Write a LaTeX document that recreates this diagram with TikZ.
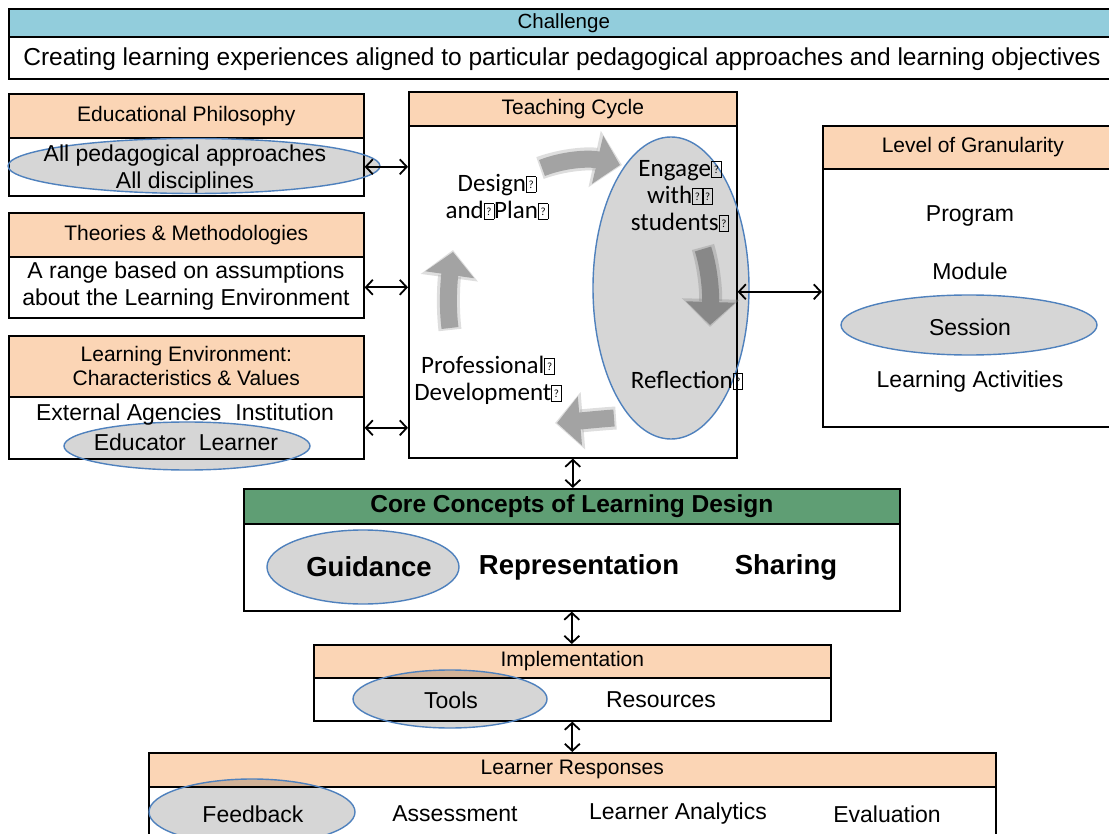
\documentclass[tikz,border=0pt]{standalone}
\usepackage{fontspec}
\setmainfont{Liberation Sans}
\newfontfamily\calfont{Carlito}
\usetikzlibrary{arrows.meta,shapes.geometric}
\definecolor{peach}{HTML}{FBD5B5}
\definecolor{chblue}{HTML}{92CDDC}
\definecolor{coregreen}{HTML}{5F9E74}
\definecolor{elblue}{HTML}{4F81BD}
\definecolor{cyclegray}{HTML}{A3A3A3}
\newcommand{\qb}{{\setlength{\fboxsep}{0.5pt}\setlength{\fboxrule}{0.7pt}\fbox{\rule{0pt}{14pt}\makebox[8pt]{\raisebox{2.5pt}{\fontsize{11}{11}\selectfont ?}}}}}
\tikzset{
  x=1pt, y=-1pt,
  boxnode/.style={draw, line width=1.6pt, inner sep=0pt, anchor=north west, fill=white},
  hdr/.style={boxnode, fill=peach, font=\fontsize{21}{24}\selectfont, align=center},
  txt/.style={inner sep=0pt, align=center, font=\fontsize{23}{27}\selectfont},
  cyc/.style={inner sep=0pt, align=center, font=\calfont\fontsize{25}{27}\selectfont},
  bold/.style={inner sep=0pt, font=\bfseries\fontsize{27.5}{30}\selectfont},
  hl/.style={ellipse, draw=elblue, line width=1.4pt, fill=black, fill opacity=0.16, inner sep=0pt},
  garrow/.style={draw=cyclegray, line width=17pt, -{Triangle[width=48pt,length=23pt]}},
  garrowsoft/.style={draw=cyclegray, draw opacity=0.35, fill opacity=0.35, line width=23pt, -{Triangle[width=56pt,length=28pt]}},
  dbl/.style={draw, line width=1.8pt, {Straight Barb[length=7pt,width=15pt,line width=1.8pt]}-{Straight Barb[length=7pt,width=15pt,line width=1.8pt]}}
}
\begin{document}
\begin{tikzpicture}
\useasboundingbox (0,0) rectangle (1109,834);
\clip (0,0) rectangle (1109,834);
% Challenge
\node[boxnode, fill=chblue, minimum width=1110, minimum height=28, font=\fontsize{20.5}{24}\selectfont] (chH) at (8,8) {Challenge};
\node[boxnode, minimum width=1110, minimum height=42] (chB) at (8,36) {};
% Educational philosophy
\node[hdr, minimum width=355, minimum height=44] (epH) at (8,93) {Educational Philosophy};
\node[boxnode, minimum width=355, minimum height=58] (epB) at (8,137) {};
% Theories
\node[hdr, minimum width=355, minimum height=44] (thH) at (8,212) {Theories \& Methodologies};
\node[boxnode, minimum width=355, minimum height=61] (thB) at (8,256) {};
% Learning environment
\node[hdr, minimum width=355, minimum height=61] (leH) at (8,335) {Learning Environment:\\Characteristics \& Values};
\node[boxnode, minimum width=355, minimum height=62] (leB) at (8,396) {};
% Teaching cycle
\node[hdr, minimum width=328, minimum height=34] (tcH) at (408,91) {Teaching Cycle};
\node[boxnode, minimum width=328, minimum height=332] (tcB) at (408,125) {};
% Granularity
\node[hdr, minimum width=300, minimum height=43] (grH) at (822,125) {Level of Granularity};
\node[boxnode, minimum width=300, minimum height=258] (grB) at (822,168) {};
% Core concepts
\node[boxnode, fill=coregreen, minimum width=656, minimum height=35, font=\bfseries\fontsize{24.5}{28}\selectfont] (coH) at (243,488) {Core Concepts of Learning Design};
\node[boxnode, minimum width=656, minimum height=87] (coB) at (243,523) {};
% Implementation
\node[hdr, minimum width=517, minimum height=33] (imH) at (313,644) {Implementation};
\node[boxnode, minimum width=517, minimum height=43] (imB) at (313,677) {};
% Learner responses
\node[hdr, minimum width=847, minimum height=34] (lrH) at (148,752) {Learner Responses};
\node[boxnode, minimum width=847, minimum height=70] (lrB) at (148,786) {};

% cycle arrows (soft halo, then body)
\draw[garrowsoft] (540,168) .. controls (565,159) and (590,158) .. (622,165);
\draw[garrowsoft] (703,247) .. controls (709,268) and (711,290) .. (710,327);
\draw[garrowsoft] (616,418) .. controls (600,419) and (580,421) .. (555,423);
\draw[garrowsoft] (450,330) .. controls (447,305) and (449,280) .. (453,250);
\draw[garrow] (542,168) .. controls (565,159) and (590,158) .. (620,165);
\draw[garrow] (703,249) .. controls (709,268) and (711,290) .. (710,325);
\draw[garrow] (614,418) .. controls (600,419) and (580,421) .. (557,423);
\draw[garrow] (450,328) .. controls (447,305) and (449,280) .. (453,252);

% highlight ellipses
\node[hl, minimum width=372, minimum height=55] (e1) at (194,166) {};
\node[hl, minimum width=156, minimum height=302] (e2) at (671,288) {};
\node[hl, minimum width=246, minimum height=48] (e3) at (187,446) {};
\node[hl, minimum width=256, minimum height=60] (e4) at (969,325) {};
\node[hl, minimum width=192, minimum height=74] (e5) at (363,567) {};
\node[hl, minimum width=194, minimum height=58] (e6) at (450,699) {};
\node[hl, minimum width=206, minimum height=66] (e7) at (252,812) {};

% body texts
\node[txt, font=\fontsize{24.5}{28}\selectfont] (t0) at (562,59) {Creating learning experiences aligned to particular pedagogical approaches and learning objectives};
\node[txt] (t1) at (185,169) {All pedagogical approaches\\All disciplines};
\node[txt] (t2) at (186,286) {A range based on assumptions\\about the Learning Environment};
\node[txt] (t3) at (185,415) {External Agencies\hspace{14pt}Institution};
\node[txt] (t4) at (186,442) {Educator\hspace{13pt}Learner};
\node[cyc] (c1) at (497,197) {Design\qb\\and\qb Plan\qb};
\node[cyc] (c2) at (680,196) {Engage\qb\\with\qb\qb\\students\qb};
\node[cyc] (c3) at (488,380) {Professional\qb\\Development\qb};
\node[cyc] (c4) at (687,380) {Reflection\qb};
\node[txt] (g1) at (970,216) {Program};
\node[txt] (g2) at (970,271) {Module};
\node[txt] (g3) at (970,327) {Session};
\node[txt] (g4) at (970,382) {Learning Activities};
\node[bold] (k1) at (369,567) {Guidance};
\node[bold] (k2) at (579,567) {Representation};
\node[bold] (k3) at (786,567) {Sharing};
\node[txt] (i1) at (451,700) {Tools};
\node[txt] (i2) at (661,700) {Resources};
\node[txt] (l1) at (253,814) {Feedback};
\node[txt] (l2) at (455,814) {Assessment};
\node[txt] (l3) at (678,814) {Learner Analytics};
\node[txt] (l4) at (887,814) {Evaluation};

% connectors
\draw[dbl] (epB.east) -- (epB.east -| tcB.west);
\draw[dbl] (thB.east) -- (thB.east -| tcB.west);
\draw[dbl] (leB.east) -- (leB.east -| tcB.west);
\draw[dbl] (tcB.east) -- (tcB.east -| grB.west);
\draw[dbl] (tcB.south) -- (tcB.south |- coH.north);
\draw[dbl] (coB.south) -- (coB.south |- imH.north);
\draw[dbl] (imB.south) -- (imB.south |- lrH.north);
\end{tikzpicture}
\end{document}
